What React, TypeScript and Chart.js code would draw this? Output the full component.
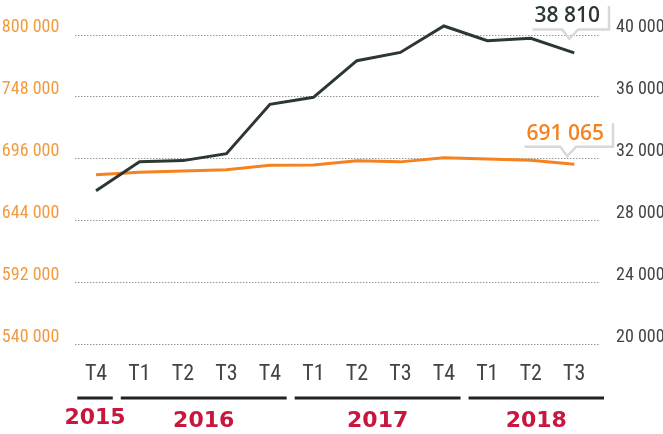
import React, { useEffect, useRef } from 'react';
import { Chart, registerables } from 'chart.js';

Chart.register(...registerables);

const quarters = ['T4', 'T1', 'T2', 'T3', 'T4', 'T1', 'T2', 'T3', 'T4', 'T1', 'T2', 'T3'];
const years = ['2015', '2016', '2017', '2018'];
const quartersPerYear = [1, 4, 4, 3];
const orangeValues = [682200, 684200, 685300, 686400, 690100, 690400, 694000, 693000, 696500, 695400, 694300, 691065];
const darkValues = [29900, 31780, 31850, 32300, 35490, 35940, 38310, 38840, 40550, 39600, 39760, 38810];
const leftTicks = [540000, 592000, 644000, 696000, 748000, 800000];
const rightTicks = [20000, 24000, 28000, 32000, 36000, 40000];

const ORANGE = '#f58220';
const DARK = '#2c3632';
const NARROW = "'Liberation Sans Narrow', 'Roboto Condensed', 'Liberation Sans', sans-serif";
const WIDE = "'DejaVu Sans', sans-serif";
const CALLOUT = "'Open Sans', sans-serif";

const fmt = (v: number) => String(Math.round(v)).replace(/\B(?=(\d{3})+(?!\d))/g, ' ');

const overlay = {
  id: 'overlay',
  beforeDatasetsDraw(chart: any) {
    const { ctx, chartArea } = chart;
    const y = chart.scales.y;
    ctx.save();
    ctx.strokeStyle = '#666';
    ctx.lineWidth = 1;
    ctx.setLineDash([1, 2]);
    leftTicks.forEach((v) => {
      const py = Math.round(y.getPixelForValue(v)) + 0.5;
      ctx.beginPath();
      ctx.moveTo(chartArea.left + 1, py);
      ctx.lineTo(chartArea.right + 4, py);
      ctx.stroke();
    });
    ctx.restore();
  },
  afterDatasetsDraw(chart: any) {
    const { ctx, chartArea } = chart;
    const x = chart.scales.x;
    const w = x.getPixelForValue(1) - x.getPixelForValue(0);
    ctx.save();
    // year brackets
    let idx = 0;
    years.forEach((yr, k) => {
      const n = quartersPerYear[k];
      const left = x.getPixelForValue(idx) - w / 2 + 3;
      let right = x.getPixelForValue(idx + n - 1) + w / 2 - 5;
      if (k === years.length - 1) right = Math.min(right + 13, chartArea.right + 9);
      ctx.strokeStyle = '#222';
      ctx.lineWidth = 3;
      ctx.beginPath();
      ctx.moveTo(left, 398);
      ctx.lineTo(right, 398);
      ctx.stroke();
      ctx.fillStyle = '#c8163f';
      ctx.font = `bold 22px ${WIDE}`;
      ctx.textAlign = 'center';
      ctx.textBaseline = 'middle';
      ctx.fillText(yr, (left + right) / 2, k === 0 ? 418 : 421);
      idx += n;
    });
    // callouts
    const conf = [
      { ds: 1, dx: -5, dy: -14, color: DARK },
      { ds: 0, dx: -7, dy: -8, color: ORANGE },
    ];
    conf.forEach((c) => {
      const meta = chart.getDatasetMeta(c.ds);
      const pt = meta.data[meta.data.length - 1];
      const values = chart.data.datasets[c.ds].data;
      const text = fmt(values[values.length - 1]);
      const tx = pt.x + c.dx;
      const ty = pt.y + c.dy;
      ctx.font = `600 21px ${CALLOUT}`;
      const tw = ctx.measureText(text).width;
      const cx = tx - 2;
      const tl = cx - tw / 2;
      const tr = cx + tw / 2;
      const ly = ty - 9.5;
      ctx.strokeStyle = '#d8d8d8';
      ctx.lineWidth = 2.5;
      ctx.lineJoin = 'miter';
      ctx.beginPath();
      ctx.moveTo(tl - 2, ly);
      ctx.lineTo(tx - 7, ly);
      ctx.lineTo(tx, ty);
      ctx.lineTo(tx + 9, ly);
      ctx.lineTo(tr + 9, ly);
      ctx.lineTo(tr + 9, ty - 33);
      ctx.stroke();
      ctx.fillStyle = c.color;
      ctx.textAlign = 'center';
      ctx.textBaseline = 'alphabetic';
      ctx.fillText(text, cx, ty - 16.5);
    });
    ctx.restore();
  },
};

export default function App() {
  const ref = useRef<HTMLCanvasElement>(null);
  useEffect(() => {
    if (!ref.current) return;
    const chart = new Chart(ref.current, {
      type: 'line',
      data: {
        labels: quarters,
        datasets: [
          {
            label: 'orange',
            data: orangeValues,
            yAxisID: 'y',
            borderColor: ORANGE,
            borderWidth: 3,
            pointRadius: 0,
            tension: 0,
            clip: false,
            order: 2,
          },
          {
            label: 'dark',
            data: darkValues,
            yAxisID: 'y1',
            borderColor: DARK,
            borderWidth: 3,
            pointRadius: 0,
            tension: 0,
            clip: false,
            order: 1,
          },
        ],
      },
      options: {
        responsive: false,
        animation: false,
        layout: { padding: { top: 34.5, left: 0, right: 0, bottom: 0 } },
        plugins: { legend: { display: false }, tooltip: { enabled: false } },
        scales: {
          x: {
            offset: true,
            grid: { display: false, drawTicks: false },
            border: { display: false },
            ticks: { color: '#444', font: { family: NARROW, size: 22 }, padding: 17, maxRotation: 0, autoSkip: false },
            afterFit: (s: any) => { s.height = 90; },
          },
          y: {
            position: 'left',
            min: 540000,
            max: 800000,
            afterBuildTicks: (s: any) => { s.ticks = leftTicks.map((v) => ({ value: v })); },
            grid: { display: false, drawTicks: false },
            border: { display: false },
            ticks: {
              color: '#f39a3e',
              font: { family: NARROW, size: 18 },
              padding: 15,
              labelOffset: -7,
              callback: (v: any) => fmt(Number(v)),
            },
            afterFit: (s: any) => { s.width = 74.3; },
          },
          y1: {
            position: 'right',
            min: 20000,
            max: 40000,
            afterBuildTicks: (s: any) => { s.ticks = rightTicks.map((v) => ({ value: v })); },
            grid: { display: false, drawTicks: false },
            border: { display: false },
            ticks: {
              color: '#444',
              font: { family: NARROW, size: 18 },
              padding: 20,
              labelOffset: -7,
              callback: (v: any) => fmt(Number(v)),
            },
            afterFit: (s: any) => { s.width = 67; },
          },
        },
      },
      plugins: [overlay],
    });
    return () => chart.destroy();
  }, []);
  return (
    <div style={{ position: 'absolute', left: 0, top: 0, width: 663, height: 434, background: '#fff' }}>
      <canvas ref={ref} width={663} height={434} style={{ display: 'block' }} />
    </div>
  );
}
